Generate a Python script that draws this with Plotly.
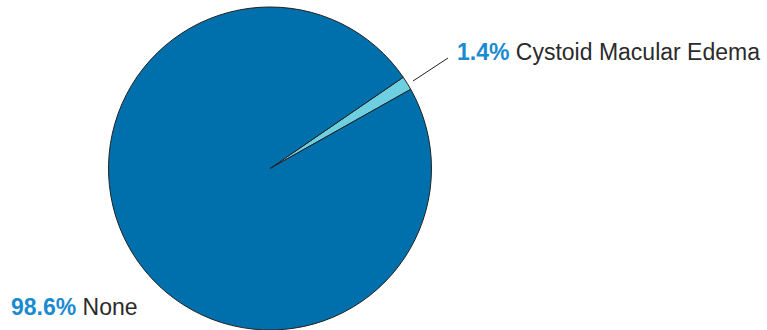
import plotly.graph_objects as go

categories = ["Cystoid Macular Edema", "None"]
values = [1.4, 98.6]
pct_labels = ["1.4%", "98.6%"]
colors = ["#6DCFE0", "#0070AD"]

W, H = 767, 330
fig = go.Figure()
fig.add_trace(go.Pie(
    labels=categories, values=values, sort=False, direction="clockwise",
    rotation=55.6, textinfo="none", hoverinfo="label+percent",
    marker=dict(colors=colors, line=dict(color="#222222", width=1)),
    domain=dict(x=[108 / W, 432 / W], y=[0, 1 - 7 / H]),
    showlegend=False,
))

font = "Liberation Sans, Arial, sans-serif"
fig.add_annotation(
    x=455 / W, y=1 - 52.5 / H, xref="paper", yref="paper", xanchor="left", yanchor="middle",
    text=f"<b><span style='color:#1A8BD0'>{pct_labels[0]}</span></b> {categories[0]}",
    showarrow=False, font=dict(family=font, size=23, color="#2B2B2B"),
)
fig.add_annotation(
    x=9 / W, y=1 - 307 / H, xref="paper", yref="paper", xanchor="left", yanchor="middle",
    text=f"<b><span style='color:#1A8BD0'>{pct_labels[1]}</span></b> {categories[1]}",
    showarrow=False, font=dict(family=font, size=23, color="#2B2B2B"),
)
fig.add_shape(type="line", xref="paper", yref="paper",
              x0=413 / W, y0=1 - 81 / H, x1=448 / W, y1=1 - 58 / H,
              line=dict(color="#222222", width=1))

fig.update_layout(width=W, height=H, margin=dict(l=0, r=0, t=0, b=0),
                  paper_bgcolor="white", plot_bgcolor="white")
fig.write_html("out.html", config={"displayModeBar": False})

with open("out.html", "r", encoding="utf-8") as f:
    html = f.read()
html = html.replace("<head>", "<head><style>html,body{margin:0;padding:0;overflow:hidden}</style>", 1)
with open("out.html", "w", encoding="utf-8") as f:
    f.write(html)
